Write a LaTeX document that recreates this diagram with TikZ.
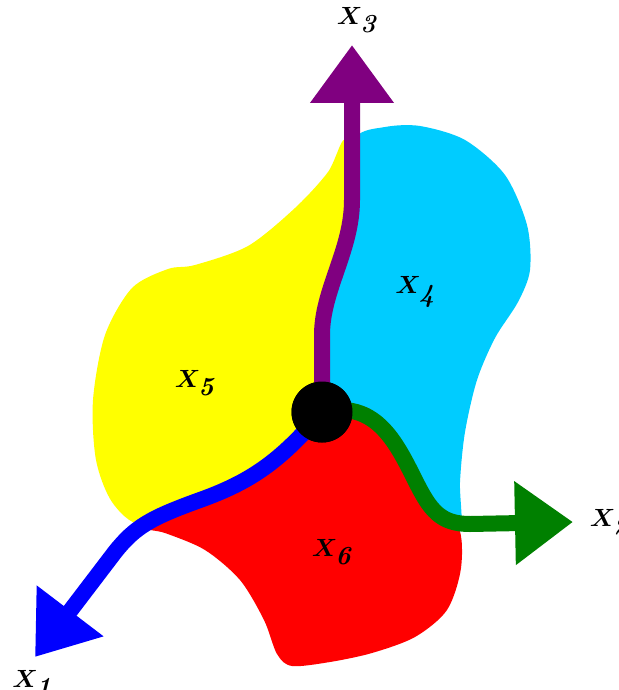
\documentclass[tikz,border=0pt]{standalone}
\usetikzlibrary{arrows.meta}

\definecolor{regyellow}{RGB}{255,255,0}
\definecolor{regred}{RGB}{255,0,0}
\definecolor{regcyan}{RGB}{0,204,255}
\definecolor{armblue}{RGB}{0,0,255}
\definecolor{armgreen}{RGB}{0,128,0}
\definecolor{armpurple}{RGB}{128,0,128}

\tikzset{
  region/.style={draw=none, fill=#1},
  arm/.style={draw=#1, line width=16pt, -{Triangle[length=58pt,width=80pt]}},
  lbl/.style={font=\fontsize{26}{30}\selectfont\boldmath},
}

\begin{document}
\begin{tikzpicture}[x=1pt, y=-1pt]
  \useasboundingbox (0,0) rectangle (618,690);
  % Regions
  \fill[region=regyellow] plot[smooth cycle, tension=0.5] coordinates {
    (345,140) (352,200) (336,262) (318,320) (318,380) (320,412)
    (290,440) (240,482) (185,503) (140,524)
    (112,502) (96,460) (93,400) (105,335) (132,288) (168,269) (195,265)
    (248,246) (295,208) (328,172)};
  \fill[region=regcyan] plot[smooth cycle, tension=0.5] coordinates {
    (356,138) (385,127) (420,126) (465,140) (505,175) (527,225) (530,270)
    (518,302) (495,338) (477,380) (465,432) (460,482) (460,532)
    (430,520) (405,472) (385,432) (360,405) (322,412)
    (320,360) (326,300) (345,240) (356,190)};
  \fill[region=regred] plot[smooth cycle, tension=0.5] coordinates {
    (140,526) (190,505) (240,485) (290,442) (322,412) (368,408)
    (398,448) (425,500) (458,526)
    (461,568) (447,610) (415,637) (372,653) (330,662) (292,666)
    (277,654) (264,620) (240,580) (205,550) (165,533)};
  % Arms
  \coordinate (x3tip) at (352,45);
  \coordinate (x2tip) at (573,522);
  \coordinate (x1tip) at (35,657);
  \node[circle, fill=black, minimum size=61pt, inner sep=0pt] (hub) at (322,412) {};
  \draw[arm=armpurple] (hub.center) -- (322,335)
    .. controls (322,290) and (352,250) .. (352,200) -- (x3tip);
  \draw[arm=armgreen] (hub.center) .. controls (375,400) and (395,440) .. (415,480)
    .. controls (430,510) and (440,524) .. (470,524) -- (x2tip);
  \draw[arm=armblue] (hub.center) .. controls (280,462) and (250,482) .. (200,500)
    .. controls (150,518) and (135,527) .. (115,552) -- (x1tip);
  \node[circle, fill=black, minimum size=61pt, inner sep=0pt] at (hub) {};
  % Labels
  \node[lbl] (x3) at (357,20) {$X_{\textbf{\textit{3}}}$};
  \node[lbl] (x2) at (610,522) {$X_{\textbf{\textit{2}}}$};
  \node[lbl] (x1) at (32,683) {$X_{\textbf{\textit{1}}}$};
  \node[lbl] (x4) at (415,292) {$X_{\textbf{\textit{4}}}$};
  \node[lbl] (x5) at (195,383) {$X_{\textbf{\textit{5}}}$};
  \node[lbl] (x6) at (332,552) {$X_{\textbf{\textit{6}}}$};
\end{tikzpicture}
\end{document}
